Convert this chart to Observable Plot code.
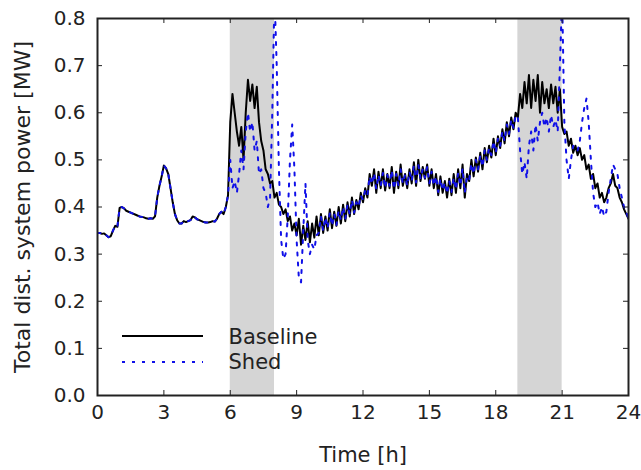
<!DOCTYPE html>
<html>
<head>
<meta charset="utf-8">
<script src="https://cdn.jsdelivr.net/npm/d3@7"></script>
<script src="https://cdn.jsdelivr.net/npm/@observablehq/plot@0.6"></script>
<style>
  html, body { margin: 0; padding: 0; background: white; }
  #chart { width: 641px; height: 470px; }
</style>
</head>
<body>
<div id="chart"></div>
<script>
// Time grid (hours), one sample every 0.1 h
const times = d3.range(0, 241).map(i => i / 10);

// Baseline total distribution system power [MW], 10 samples per hour
const baseline = [
  0.345,0.345,0.343,0.344,0.340,0.336,0.338,0.350,0.360,0.358, // 0h
  0.398,0.400,0.397,0.392,0.390,0.388,0.386,0.384,0.382,0.380, // 1h
  0.379,0.378,0.376,0.375,0.376,0.375,0.380,0.420,0.445,0.465, // 2h
  0.488,0.482,0.470,0.440,0.410,0.385,0.372,0.365,0.365,0.370, // 3h
  0.368,0.370,0.372,0.380,0.378,0.374,0.372,0.370,0.368,0.367, // 4h
  0.367,0.368,0.370,0.369,0.375,0.385,0.390,0.385,0.400,0.425, // 5h
  0.580,0.640,0.600,0.560,0.530,0.570,0.500,0.600,0.670,0.625, // 6h
  0.660,0.610,0.655,0.580,0.540,0.520,0.480,0.470,0.450,0.455, // 7h
  0.420,0.430,0.405,0.400,0.385,0.395,0.370,0.380,0.350,0.365, // 8h
  0.340,0.375,0.320,0.360,0.330,0.370,0.325,0.365,0.335,0.380, // 9h
  0.340,0.385,0.345,0.380,0.350,0.395,0.355,0.390,0.360,0.400, // 10h
  0.365,0.405,0.370,0.410,0.380,0.420,0.385,0.415,0.395,0.430, // 11h
  0.410,0.440,0.420,0.470,0.445,0.480,0.430,0.475,0.440,0.480, // 12h
  0.435,0.470,0.440,0.485,0.430,0.475,0.440,0.490,0.445,0.470, // 13h
  0.440,0.480,0.450,0.495,0.445,0.500,0.455,0.485,0.460,0.490, // 14h
  0.445,0.480,0.440,0.470,0.425,0.465,0.430,0.455,0.420,0.460, // 15h
  0.425,0.470,0.430,0.480,0.440,0.490,0.420,0.470,0.455,0.500, // 16h
  0.465,0.505,0.475,0.515,0.480,0.525,0.495,0.530,0.505,0.545, // 17h
  0.510,0.550,0.525,0.565,0.535,0.580,0.550,0.590,0.565,0.600, // 18h
  0.590,0.640,0.610,0.665,0.620,0.680,0.610,0.670,0.625,0.680, // 19h
  0.600,0.665,0.620,0.650,0.610,0.660,0.620,0.655,0.600,0.650, // 20h
  0.570,0.555,0.560,0.530,0.545,0.515,0.530,0.510,0.525,0.500, // 21h
  0.510,0.480,0.490,0.460,0.470,0.440,0.450,0.420,0.430,0.410, // 22h
  0.420,0.440,0.450,0.470,0.445,0.440,0.420,0.410,0.395,0.385, // 23h
  0.375                                                        // 24h
];

// Load-shed scenario [MW]
const shed = [
  0.345,0.345,0.343,0.344,0.340,0.336,0.338,0.350,0.360,0.358, // 0h
  0.398,0.400,0.397,0.392,0.390,0.388,0.386,0.384,0.382,0.380, // 1h
  0.379,0.378,0.376,0.375,0.376,0.375,0.380,0.420,0.445,0.465, // 2h
  0.488,0.482,0.470,0.440,0.410,0.385,0.372,0.365,0.365,0.370, // 3h
  0.368,0.370,0.372,0.380,0.378,0.374,0.372,0.370,0.368,0.367, // 4h
  0.367,0.368,0.370,0.369,0.375,0.385,0.390,0.385,0.400,0.425, // 5h
  0.500,0.440,0.455,0.430,0.470,0.520,0.480,0.560,0.600,0.560, // 6h
  0.580,0.520,0.540,0.470,0.480,0.440,0.430,0.400,0.420,0.600, // 7h
  0.850,0.700,0.480,0.330,0.290,0.300,0.380,0.500,0.575,0.480, // 8h
  0.330,0.250,0.240,0.350,0.450,0.330,0.300,0.320,0.310,0.340, // 9h
  0.345,0.380,0.350,0.378,0.355,0.388,0.360,0.385,0.362,0.392, // 10h
  0.372,0.400,0.375,0.405,0.385,0.415,0.388,0.410,0.400,0.425, // 11h
  0.415,0.435,0.425,0.465,0.448,0.472,0.438,0.468,0.445,0.472, // 12h
  0.440,0.468,0.445,0.478,0.438,0.470,0.445,0.480,0.450,0.468, // 13h
  0.445,0.475,0.455,0.488,0.452,0.490,0.460,0.480,0.462,0.485, // 14h
  0.450,0.475,0.445,0.465,0.432,0.460,0.435,0.452,0.428,0.455, // 15h
  0.432,0.462,0.437,0.472,0.445,0.482,0.430,0.465,0.458,0.492, // 16h
  0.470,0.500,0.480,0.510,0.485,0.520,0.500,0.525,0.510,0.540, // 17h
  0.515,0.545,0.530,0.560,0.540,0.575,0.555,0.585,0.568,0.595, // 18h
  0.590,0.520,0.470,0.495,0.460,0.530,0.560,0.520,0.575,0.540, // 19h
  0.580,0.600,0.570,0.590,0.560,0.595,0.570,0.585,0.560,0.700, // 20h
  0.850,0.580,0.500,0.460,0.500,0.530,0.520,0.520,0.540,0.580, // 21h
  0.610,0.630,0.580,0.500,0.430,0.400,0.410,0.385,0.400,0.380, // 22h
  0.390,0.430,0.460,0.490,0.480,0.470,0.440,0.420,0.400,0.390, // 23h
  0.375                                                        // 24h
];

// Shaded demand-response windows [h]
const windowStart = [6, 19];
const windowEnd = [8, 21];

const xTicks = [0, 3, 6, 9, 12, 15, 18, 21, 24];
const yTicks = [0, 0.1, 0.2, 0.3, 0.4, 0.5, 0.6, 0.7, 0.8];

const seriesNames = ["Baseline", "Shed"];
const xLabel = "Time [h]";
const yLabel = "Total dist. system power [MW]";

const rows = times.map((t, i) => ({t, baseline: baseline[i], shed: shed[i]}));
const windows = windowStart.map((s, i) => ({start: s, end: windowEnd[i]}));

const W = 641, H = 470, mL = 97, mR = 13, mT = 18, mB = 75;
const innerW = W - mL - mR, innerH = H - mT - mB;
const tickLen = 5;
const font = "DejaVu Sans, Bitstream Vera Sans, sans-serif";
const shedColor = "#1010e8";
const shedDash = "3,7";

const chart = Plot.plot({
  width: W,
  height: H,
  marginLeft: mL,
  marginRight: mR,
  marginTop: mT,
  marginBottom: mB,
  style: {fontFamily: font, fontSize: "20px", background: "white", color: "#222"},
  x: {domain: [0, 24]},
  y: {domain: [0, 0.8]},
  marks: [
    Plot.rect(windows, {x1: "start", x2: "end", fill: "#d5d5d5"}),
    Plot.line(rows, {x: "t", y: "baseline", stroke: "black", strokeWidth: 2, clip: true}),
    Plot.line(rows, {x: "t", y: "shed", stroke: shedColor, strokeWidth: 2, strokeDasharray: shedDash, clip: true}),
    Plot.axisX({ticks: xTicks, tickSize: 0, tickPadding: 9, tickFormat: d => String(d), label: null, fontSize: 20}),
    Plot.axisY({ticks: yTicks, tickSize: 0, tickPadding: 12, tickFormat: d3.format(".1f"), label: null, fontSize: 20}),
    Plot.tickX(xTicks, {x: d => d, insetTop: innerH - tickLen, stroke: "#222", strokeWidth: 1}),
    Plot.tickX(xTicks, {x: d => d, insetBottom: innerH - tickLen, stroke: "#222", strokeWidth: 1}),
    Plot.tickY(yTicks, {y: d => d, insetRight: innerW - tickLen, stroke: "#222", strokeWidth: 1}),
    Plot.tickY(yTicks, {y: d => d, insetLeft: innerW - tickLen, stroke: "#222", strokeWidth: 1}),
    Plot.frame({stroke: "#222", strokeWidth: 2}),
    Plot.text([xLabel], {text: d => d, frameAnchor: "bottom", dy: 60, lineAnchor: "middle", fontSize: 21, fill: "#222"}),
    Plot.text([yLabel], {text: d => d, frameAnchor: "left", dx: -75, rotate: -90, lineAnchor: "middle", textAnchor: "middle", fontSize: 22, fill: "#222"}),
    Plot.text([seriesNames[0]], {text: d => d, frameAnchor: "bottom-left", dx: 131, dy: -58, textAnchor: "start", lineAnchor: "middle", fontSize: 21, fill: "#222"}),
    Plot.text([seriesNames[1]], {text: d => d, frameAnchor: "bottom-left", dx: 131, dy: -33, textAnchor: "start", lineAnchor: "middle", fontSize: 21, fill: "#222"})
  ]
});

// Legend line samples
const svg = d3.select(chart);
svg.append("line").attr("x1", 122).attr("x2", 203).attr("y1", 336).attr("y2", 336)
  .attr("stroke", "black").attr("stroke-width", 2);
svg.append("line").attr("x1", 122).attr("x2", 203).attr("y1", 362).attr("y2", 362)
  .attr("stroke", shedColor).attr("stroke-width", 2).attr("stroke-dasharray", shedDash);

document.getElementById("chart").append(chart);
</script>
</body>
</html>
